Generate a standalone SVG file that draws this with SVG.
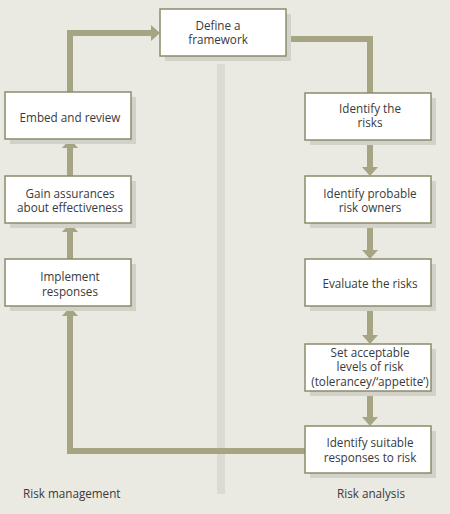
<svg xmlns="http://www.w3.org/2000/svg" width="450" height="514" viewBox="0 0 450 514">
<defs>
<style>
.bg{fill:#eae9e2}
.shadow{fill:#d3d2c8}
.box{fill:#ffffff;stroke:#8c8c6c;stroke-width:1.5}
.t{font-family:"Open Sans","Liberation Sans",sans-serif;font-size:11.7px;fill:#3a3a3a;text-anchor:middle}
.lbl{font-family:"Open Sans","Liberation Sans",sans-serif;font-size:11.7px;fill:#3a3a3a}
.c{fill:none;stroke:#a5a483;stroke-width:6}
.ah{fill:#a5a483}
</style>
</defs>
<rect class="bg" x="0" y="0" width="450" height="514"/>
<rect x="217" y="64" width="8" height="430" fill="#dcdbd1"/>
<g id="connectors">
<polyline class="c" points="70,92 70,33 152,33"/>
<polygon class="ah" points="160,33 151,25 151,41"/>
<polyline class="c" points="286,39 370,39 370,93"/>
<line class="c" x1="370" y1="140" x2="370" y2="168"/>
<polygon class="ah" points="370,176 362,167 378,167"/>
<line class="c" x1="370" y1="223" x2="370" y2="251"/>
<polygon class="ah" points="370,259 362,250 378,250"/>
<line class="c" x1="370" y1="307" x2="370" y2="336"/>
<polygon class="ah" points="370,344 362,335 378,335"/>
<line class="c" x1="370" y1="391" x2="370" y2="418"/>
<polygon class="ah" points="370,426 362,417 378,417"/>
<line class="c" x1="70" y1="259" x2="70" y2="231"/>
<polygon class="ah" points="70,223 62,232 78,232"/>
<line class="c" x1="70" y1="176" x2="70" y2="147"/>
<polygon class="ah" points="70,139 62,148 78,148"/>
<polyline class="c" points="305,451 70,451 70,315"/>
<polygon class="ah" points="70,307 62,316 78,316"/>
</g>
<g id="define">
<rect class="shadow" x="165" y="14" width="126" height="47"/>
<rect class="box" x="160" y="9" width="126" height="47"/>
<text class="t" x="218" y="29.5">Define a</text>
<text class="t" x="218" y="44">framework</text>
</g>
<g id="embed">
<rect class="shadow" x="10" y="97" width="126" height="47"/>
<rect class="box" x="5" y="92" width="126" height="47"/>
<text class="t" x="70" y="122">Embed and review</text>
</g>
<g id="gain">
<rect class="shadow" x="10" y="181" width="126" height="47"/>
<rect class="box" x="5" y="176" width="126" height="47"/>
<text class="t" x="70" y="197.5">Gain assurances</text>
<text class="t" x="70" y="212">about effectiveness</text>
</g>
<g id="implement">
<rect class="shadow" x="10" y="264" width="126" height="47"/>
<rect class="box" x="5" y="259" width="126" height="47"/>
<text class="t" x="70" y="281">Implement</text>
<text class="t" x="70" y="295.5">responses</text>
</g>
<g id="identify-risks">
<rect class="shadow" x="310" y="98" width="126" height="47"/>
<rect class="box" x="305" y="93" width="126" height="47"/>
<text class="t" x="370" y="112.5">Identify the</text>
<text class="t" x="370" y="127">risks</text>
</g>
<g id="owners">
<rect class="shadow" x="310" y="181" width="126" height="47"/>
<rect class="box" x="305" y="176" width="126" height="47"/>
<text class="t" x="370" y="197.5">Identify probable</text>
<text class="t" x="370" y="212">risk owners</text>
</g>
<g id="evaluate">
<rect class="shadow" x="310" y="264" width="126" height="47"/>
<rect class="box" x="305" y="259" width="126" height="47"/>
<text class="t" x="370" y="287.5">Evaluate the risks</text>
</g>
<g id="acceptable">
<rect class="shadow" x="310" y="349" width="126" height="47"/>
<rect class="box" x="305" y="344" width="126" height="47"/>
<text class="t" x="370" y="356.5">Set acceptable</text>
<text class="t" x="370" y="371">levels of risk</text>
<text class="t" x="370" y="386">(tolerancey/‘appetite’)</text>
</g>
<g id="suitable">
<rect class="shadow" x="310" y="431" width="126" height="47"/>
<rect class="box" x="305" y="426" width="126" height="47"/>
<text class="t" x="370" y="447">Identify suitable</text>
<text class="t" x="370" y="461.5">responses to risk</text>
</g>
<text class="lbl" x="23" y="498">Risk management</text>
<text class="lbl" x="337" y="498">Risk analysis</text>
</svg>
